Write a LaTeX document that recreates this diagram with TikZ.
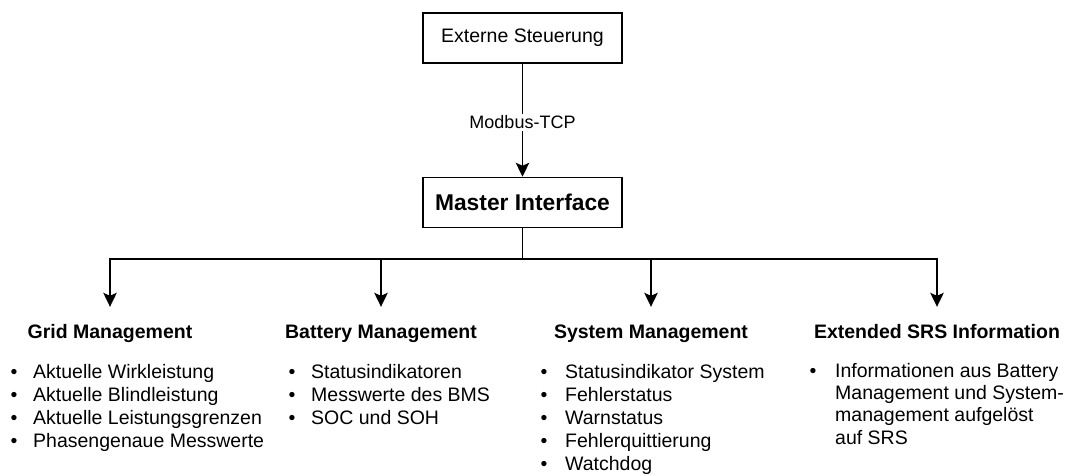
\documentclass[tikz,border=0pt]{standalone}
\usepackage{fontspec}
\setmainfont{Liberation Sans}
\usetikzlibrary{arrows.meta}

\begin{document}
\begin{tikzpicture}[x=1pt,y=-1pt,
  box/.style={draw, line width=1.5pt, minimum width=199pt, minimum height=50pt, inner sep=0pt},
  wire/.style={line width=1.5pt},
  arr/.style={wire, -{Stealth[length=14pt,width=13.5pt,inset=3pt]}},
  txt/.style={font=\fontsize{19.5}{23}\selectfont},
  head/.style={font=\bfseries\fontsize{19.5}{23}\selectfont, anchor=base,
    inner xsep=0pt, inner ysep=17pt, text height=14pt, text depth=4pt},
  item/.style={txt, anchor=base west, inner sep=0pt},
  dot/.style={txt, anchor=base, inner sep=0pt},
]
\fill[white] (0,0) rectangle (1069,475);
\useasboundingbox (0,0) rectangle (1069,475);

% top boxes
\node[box, txt] (ext) at (522.5,38) {Externe Steuerung};
\node[box, font=\bfseries\fontsize{22.8}{27}\selectfont] (master) at (522.5,202.5) {Master Interface};
\draw[arr] (ext) -- node[fill=white, font=\fontsize{18}{21}\selectfont,
  inner xsep=1pt, inner ysep=2pt, pos=0.52] (modbus) {Modbus-TCP} (master);

% section headings
\node[head] (grid) at (110,338) {Grid Management};
\node[head] (battery) at (381,338) {Battery Management};
\node[head] (system) at (651,338) {System Management};
\node[head] (srs) at (937,338) {Extended SRS Information};

% distribution bus
\coordinate (bus) at (522.5,259);
\draw[wire] (master) -- (bus);
\draw[arr] (bus) -| (grid.north);
\draw[arr] (bus) -| (battery.north);
\draw[arr] (bus) -| (system.north);
\draw[arr] (bus) -| (srs.north);

% bullet lists
\foreach \t [count=\i] in {Aktuelle Wirkleistung, Aktuelle Blindleistung,
    Aktuelle Leistungsgrenzen, Phasengenaue Messwerte} {
  \node[item] (grid-\i) at (33,{378+23*(\i-1)}) {\t};
  \node[dot] (gridb-\i) at (14,{378+23*(\i-1)}) {•};
}
\foreach \t [count=\i] in {Statusindikatoren, Messwerte des BMS, SOC und SOH} {
  \node[item] (bat-\i) at (311,{378+23*(\i-1)}) {\t};
  \node[dot] (batb-\i) at (292,{378+23*(\i-1)}) {•};
}
\foreach \t [count=\i] in {Statusindikator System, Fehlerstatus, Warnstatus,
    Fehlerquittierung, Watchdog} {
  \node[item] (sys-\i) at (565,{378.5+23*(\i-1)}) {\t};
  \node[dot] (sysb-\i) at (544,{378.5+23*(\i-1)}) {•};
}
\foreach \t [count=\i] in {Informationen aus Battery, Management und System-,
    management aufgelöst, auf SRS} {
  \node[item] (srs-\i) at (835,{377+22.4*(\i-1)}) {\t};
}
\node[dot] (srsb-1) at (813,377) {•};
\end{tikzpicture}
\end{document}
